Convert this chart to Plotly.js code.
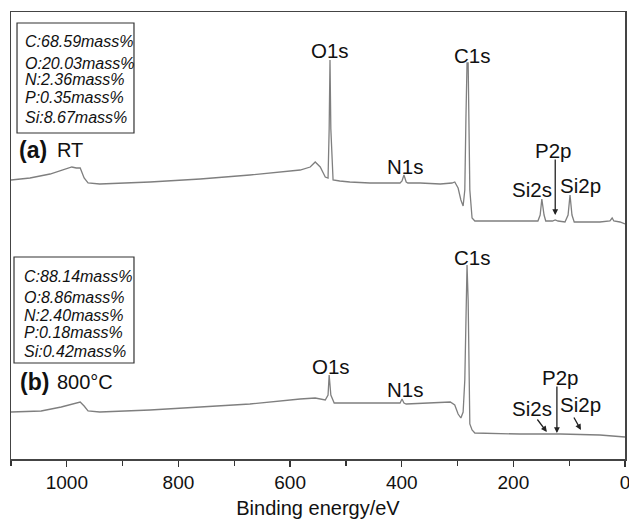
<!DOCTYPE html>
<html>
<head>
<meta charset="utf-8">
<script src="https://cdn.plot.ly/plotly-3.0.1.min.js"></script>
<style>html,body{margin:0;padding:0;background:#fff;}#chart{width:629px;height:522px;}</style>
</head>
<body>
<div id="chart"></div>
<script>
// Binding energy (eV) and intensity (arb. units)
var energyA = [1100,1066,1030,1003,991,983,976,969,962,941,851,761,672,582,564,555,546,537,532,530,528.5,527,523,511,493,457,403,399.5,396,392,389,367,331,310,305,299,294,290,287,285,283,281,279.5,278,274,269,224,156,152,149,145,142,130,125,120,107.5,102,98.5,95,91,45,27,23,20,9,0];
var intensityA = [279,281,285,290,292,291,291,281,276,275,277,280,284,289,292,297,292,282,281,330,399,330,279,278,277,276,276,278,284,277,276,276,275,276,277,271,259,253,269,340,396,396,340,269,241,238,238,238,244,260,244,238,238,239,238,237,244,264,244,237,237,238,241,238,237,235];

var energyB = [1100,1046,1010,991,976,969,962,941,851,761,672,582,555,537,532,530,527,521,493,403,399.5,396,392,331,313,305,299,294,290,287,285,283,281,279.5,278,274,269,188,116,45,9,0];
var intensityB = [47,48,52,55,57,53,48,47,49,52,55,60,61,59,64,84,64,56,56,56,60,56,55,57,57,54,45,41,47,79,159,194,159,59,35,29,26,25,25,24,23,22];

var labelsA = [
  {t:'O1s', x:528.5, y:409}, {t:'C1s', x:274, y:404}, {t:'N1s', x:394, y:293},
  {t:'P2p', x:129, y:309}, {t:'Si2s', x:167, y:270}, {t:'Si2p', x:79, y:274}
];
var labelsB = [
  {t:'O1s', x:527, y:93}, {t:'N1s', x:394, y:70}, {t:'C1s', x:274, y:202},
  {t:'P2p', x:116, y:82}, {t:'Si2s', x:167, y:51}, {t:'Si2p', x:79, y:55}
];
var compA = ['C:68.59mass%','O:20.03mass%','N:2.36mass%','P:0.35mass%','Si:8.67mass%'];
var compB = ['C:88.14mass%','O:8.86mass%','N:2.40mass%','P:0.18mass%','Si:0.42mass%'];

var FONT = 'Liberation Sans, Arial, Helvetica, sans-serif';
var lineStyle = {color:'#7f7f7f', width:1.3};

var traces = [
  {x:energyA, y:intensityA, type:'scatter', mode:'lines', line:lineStyle, hoverinfo:'skip'},
  {x:energyB, y:intensityB, type:'scatter', mode:'lines', line:lineStyle, hoverinfo:'skip'}
];

var ann = [];
labelsA.concat(labelsB).forEach(function(l){
  ann.push({x:l.x, y:l.y, xref:'x', yref:'y', text:l.t, showarrow:false,
    font:{family:FONT, size:20.5, color:'#111'}, xanchor:'center', yanchor:'middle'});
});
// arrows
var arrows = [
  {x:125, y:244, ax:125, ay:301},
  {x:122, y:26, ax:122, ay:74},
  {x:140, y:27, ax:159, ay:41},
  {x:79, y:29, ax:93, ay:43}
];
arrows.forEach(function(a){
  ann.push({x:a.x, y:a.y, ax:a.ax, ay:a.ay, xref:'x', yref:'y', axref:'x', ayref:'y',
    text:'', showarrow:true, arrowhead:2, arrowsize:0.9, arrowwidth:1.3, arrowcolor:'#222', standoff:0});
});
var yA = [0.9329,0.8859,0.8479,0.8098,0.7651];
var yB = [0.4072,0.3624,0.3221,0.2841,0.2394];
compA.forEach(function(s,i){
  ann.push({x:0.0195, y:yA[i], xref:'paper', yref:'paper', text:'<i>'+s+'</i>', showarrow:false,
    xanchor:'left', yanchor:'middle', font:{family:FONT, size:16, color:'#111'}});
});
compB.forEach(function(s,i){
  ann.push({x:0.0179, y:yB[i], xref:'paper', yref:'paper', text:'<i>'+s+'</i>', showarrow:false,
    xanchor:'left', yanchor:'middle', font:{family:FONT, size:16, color:'#111'}});
});
ann.push({x:0.0098, y:0.6913, xref:'paper', yref:'paper', text:'<b>(a)</b>', showarrow:false,
  xanchor:'left', yanchor:'middle', font:{family:FONT, size:23, color:'#111'}});
ann.push({x:0.0717, y:0.6913, xref:'paper', yref:'paper', text:'RT', showarrow:false,
  xanchor:'left', yanchor:'middle', font:{family:FONT, size:20, color:'#111'}});
ann.push({x:0.0114, y:0.1723, xref:'paper', yref:'paper', text:'<b>(b)</b>', showarrow:false,
  xanchor:'left', yanchor:'middle', font:{family:FONT, size:23, color:'#111'}});
ann.push({x:0.0717, y:0.1723, xref:'paper', yref:'paper', text:'800°C', showarrow:false,
  xanchor:'left', yanchor:'middle', font:{family:FONT, size:20, color:'#111'}});

var shapes = [
  {type:'rect', xref:'paper', yref:'paper', x0:0.0098, x1:0.2003, y0:0.7293, y1:0.9754,
   line:{color:'#333', width:1.2}},
  {type:'rect', xref:'paper', yref:'paper', x0:0.0049, x1:0.2003, y0:0.2148, y1:0.4519,
   line:{color:'#333', width:1.2}}
];

var layout = {
  width:629, height:522,
  margin:{l:11, r:4, t:12, b:63},
  paper_bgcolor:'#fff', plot_bgcolor:'#fff',
  showlegend:false,
  font:{family:FONT, color:'#111'},
  xaxis:{
    range:[1100,0], showline:true, mirror:true, linecolor:'#444', linewidth:1.5,
    ticks:'outside', ticklen:6, tickwidth:1.3, tickcolor:'#333', tick0:0, dtick:200,
    tickvals:[1000,800,600,400,200,0], ticktext:['1000','800','600','400','200','0'],
    ticklabeloverflow:'allow',
    minor:{tickvals:[1100,900,700,500,300,100], ticks:'outside', ticklen:5, tickwidth:1.3, tickcolor:'#333', showgrid:false},
    tickfont:{family:FONT, size:19, color:'#111'},
    showgrid:false, zeroline:false,
    title:{text:'Binding energy/eV', font:{family:FONT, size:20, color:'#111'}, standoff:8}
  },
  yaxis:{
    range:[0,447], showline:true, mirror:true, linecolor:'#444', linewidth:1.5,
    showticklabels:false, ticks:'', showgrid:false, zeroline:false
  },
  annotations:ann,
  shapes:shapes
};

Plotly.newPlot('chart', traces, layout, {staticPlot:true, displayModeBar:false});
</script>
</body>
</html>
